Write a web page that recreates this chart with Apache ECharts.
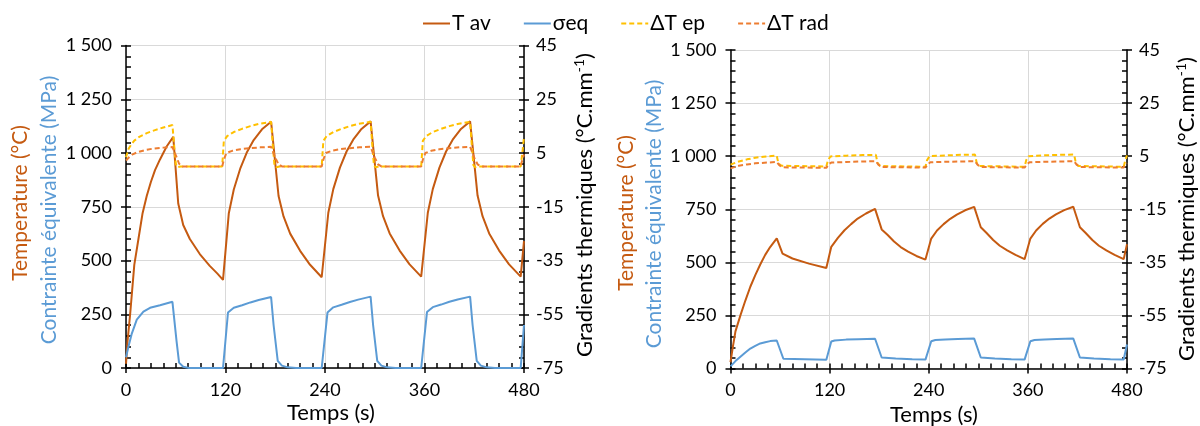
<!DOCTYPE html>
<html><head><meta charset="utf-8">
<script src="https://cdn.jsdelivr.net/npm/echarts@6/dist/echarts.min.js"></script>
<style>html,body{margin:0;padding:0;background:#fff}#c{width:1200px;height:426px}</style>
</head><body><div id="c"></div>
<script>
// ---------- DATA ----------
const seriesNames = ['T av', 'σeq', 'ΔT ep', 'ΔT rad'];
const timeTicksLabel = 'Temps (s)';

// Left chart
const L_tav_t = [0,2,5,10,15,20,25,30,35,41,49,57, 63,69,77,89,101,110,117, 124,130,138,146,154,164,175, 184,190,198,210,222,236, 244,250,258,266,274,284,295, 304,310,318,330,342,356, 364,370,378,386,394,404,415, 424,430,438,450,462,476,480];
const L_tav_v = [20,130,250,480,600,720,800,865,920,970,1030,1075, 765,665,600,530,475,440,410, 720,830,930,1005,1060,1110,1145, 800,705,625,545,480,422, 722,832,932,1007,1062,1112,1147, 802,706,626,546,482,425, 722,832,932,1007,1062,1112,1147, 802,706,626,546,482,425,590];

const L_sig_t = [0,3,7,13,21,29,41,56, 61,64,69,76,117, 123,130,140,150,160,175, 178,183,188,195,205,236, 243,250,260,270,280,295, 298,303,308,315,325,356, 363,370,380,390,400,415, 418,423,428,435,445,476,480];
const L_sig_v = [50,100,160,225,262,280,292,308, 124,25,6,0,0, 258,280,292,305,316,330, 200,33,11,3,0,0, 258,282,294,307,318,332, 200,33,11,3,0,0, 260,283,295,308,319,332, 200,33,11,3,0,0,200];

const L_ep_t = [0,3,6,10,16,25,35,45,56, 58,60,62,66,116, 118,122,130,140,150,160,175, 177,179,181,185,236, 238,242,250,260,270,280,295, 297,299,301,305,356, 358,362,370,380,390,400,415, 417,419,421,425,476,478,480];
const L_ep_v = [3.4,6.5,8.0,9.6,11.0,12.4,13.5,14.5,15.4, 8,1,-0.3,0,0, 9.5,11.3,12.8,14.0,15.0,15.8,16.6, 8,0.5,-0.3,0,0, 9.5,11.3,12.8,14.0,15.0,15.8,16.6, 8,0.5,-0.3,0,0, 9.5,11.3,12.8,14.0,15.0,15.8,16.6, 8,0.5,-0.3,0,0,5,11];

const L_rad_t = [0,4,8,14,22,32,45,56, 58,61,64,68,116, 118,121,128,138,150,162,175, 177,180,184,188,236, 238,241,248,258,270,282,295, 297,300,304,308,356, 358,361,368,378,390,402,415, 417,420,424,428,476,478,480];
const L_rad_v = [2.2,3.5,4.5,5.3,6.0,6.6,7.0,7.2, 7.0,3.5,1.0,0,0, 2.5,5.0,5.8,6.4,6.8,7.1,7.3, 7.0,3.3,0.8,0,0, 2.5,5.0,5.8,6.4,6.8,7.1,7.3, 7.0,3.3,0.8,0,0, 2.5,5.0,5.8,6.4,6.8,7.1,7.3, 7.0,3.3,0.8,0,0,2.5,4.5];

// Right chart
const R_tav_t = [0,3,6,12,18,24,30,36,42,48,56, 63,75,95,116, 122,130,138,146,154,164,175, 183,190,198,206,215,225,236, 243,250,258,266,274,284,295, 303,310,318,326,335,345,356, 363,370,378,386,394,404,415, 423,430,438,446,455,465,476,480];
const R_tav_v = [30,105,175,250,320,385,440,490,535,572,613, 541,518,494,473, 573,615,651,680,706,730,752, 655,630,598,572,550,530,513, 612,650,680,705,725,745,761, 665,638,605,578,556,535,515, 612,650,681,706,726,746,762, 665,638,605,578,556,535,515,585];

const R_sig_t = [0,6,12,18,24,30,36,42,48,56, 64,90,116, 122,126,140,155,175, 183,200,220,236, 243,248,260,275,295, 303,320,340,356, 363,368,380,395,415, 423,440,460,476,480];
const R_sig_v = [10,35,55,75,94,107,118,124,129,132, 46,44,41, 127,132,136,138,140, 52,47,44,42, 128,134,137,139,141, 52,47,44,42, 128,134,137,139,141, 52,47,44,42,113];

const R_ep_t = [0,10,20,30,40,56, 58,62,116, 118,121,140,160,176, 178,181,236, 238,241,260,280,296, 298,301,356, 358,361,380,400,416, 418,421,476,478,480];
const R_ep_v = [1.8,3.0,3.8,4.4,4.8,5.2, 2.2,1.4,1.1, 3.5,4.9,5.2,5.4,5.5, 2.5,1.3,1.0, 3.5,5.0,5.3,5.5,5.6, 2.5,1.3,1.0, 3.5,5.0,5.3,5.5,5.6, 2.5,1.3,1.0,3.5,5.3];

const R_rad_t = [0,10,20,30,45,56, 59,63,116, 119,122,140,160,176, 179,183,236, 239,242,260,280,296, 299,303,356, 359,362,380,400,416, 419,423,476,478,480];
const R_rad_v = [0.4,1.4,1.9,2.3,2.6,2.8, 1.6,0.8,0.6, 2.0,2.6,2.8,3.0,3.1, 1.8,0.9,0.7, 2.0,2.7,2.9,3.0,3.1, 1.8,0.9,0.7, 2.0,2.7,2.9,3.0,3.1, 1.8,0.9,0.7,1.8,2.3];

// ---------- CHART ----------
const FONT = 'Lato';
const C_TAV = '#C55A11', C_SIG = '#5B9BD5', C_EP = '#FFC000', C_RAD = '#ED7D31';
const chart = echarts.init(document.getElementById('c'), null, {renderer: 'canvas'});
const pairs = (t, v) => t.map((x, i) => [x, v[i]]);
const grids = [
  {left: 126, top: 45.5, width: 398, height: 322.5},
  {left: 730.5, top: 50, width: 396.5, height: 318.5}
];
const axisCol = '#000';
const fmtThousands = v => v >= 1000 ? Math.floor(v / 1000) + ' ' + String(v % 1000).padStart(3, '0') : String(v);

const xAxes = [], yAxes = [];
grids.forEach((g, gi) => {
  xAxes.push({gridIndex: gi, type: 'value', position: 'bottom', min: 0, max: 480, interval: 120,
    axisLine: {onZero: false, lineStyle: {color: axisCol, width: 1.5}},
    axisTick: {inside: false, length: 5, lineStyle: {color: axisCol, width: 1.5}},
    axisLabel: {fontFamily: FONT, fontSize: 18, color: '#000', margin: 13},
    splitLine: {show: true, lineStyle: {color: '#d9d9d9', width: 1}}});
  xAxes.push({gridIndex: gi, type: 'value', position: 'bottom', min: 0, max: 480, interval: 15,
    axisLine: {show: false, onZero: false}, axisTick: {inside: true, length: 5, lineStyle: {color: axisCol, width: 1.5}},
    axisLabel: {show: false}, splitLine: {show: false}});
  yAxes.push({gridIndex: gi, type: 'value', position: 'left', min: 0, max: 1500, interval: 250,
    axisLine: {show: true, onZero: false, lineStyle: {color: axisCol, width: 1.5}},
    axisTick: {show: true, inside: false, length: 5, lineStyle: {color: axisCol, width: 1.5}},
    axisLabel: {fontFamily: FONT, fontSize: 18, color: '#000', margin: 14, formatter: fmtThousands},
    splitLine: {show: true, lineStyle: {color: '#d9d9d9', width: 1}}});
  yAxes.push({gridIndex: gi, type: 'value', position: 'left', min: 0, max: 1500, interval: 50,
    axisLine: {show: false, onZero: false}, axisTick: {show: true, inside: true, length: 5, lineStyle: {color: axisCol, width: 1.5}},
    axisLabel: {show: false}, splitLine: {show: false}});
  yAxes.push({gridIndex: gi, type: 'value', position: 'right', min: -75, max: 45, interval: 20,
    axisLine: {show: true, onZero: false, lineStyle: {color: axisCol, width: 1.5}},
    axisTick: {show: true, inside: false, length: 5, lineStyle: {color: axisCol, width: 1.5}},
    axisLabel: {fontFamily: FONT, fontSize: 18, color: '#000', margin: 12},
    splitLine: {show: false}});
  yAxes.push({gridIndex: gi, type: 'value', position: 'right', min: -75, max: 45, interval: 4,
    axisLine: {show: false, onZero: false}, axisTick: {show: true, inside: true, length: 5, lineStyle: {color: axisCol, width: 1.5}},
    axisLabel: {show: false}, splitLine: {show: false}});
});

function mk(name, gi, yOff, t, v, color, dashed) {
  return {type: 'line', name, xAxisIndex: gi * 2, yAxisIndex: gi * 4 + yOff, data: pairs(t, v),
    symbol: 'none', showSymbol: false, itemStyle: {color},
    lineStyle: {color, width: 2, type: dashed ? [5, 3] : 'solid'}, animation: false};
}
const series = [
  mk(seriesNames[0], 0, 0, L_tav_t, L_tav_v, C_TAV, false),
  mk(seriesNames[1], 0, 0, L_sig_t, L_sig_v, C_SIG, false),
  mk(seriesNames[2], 0, 2, L_ep_t, L_ep_v, C_EP, true),
  mk(seriesNames[3], 0, 2, L_rad_t, L_rad_v, C_RAD, true),
  mk(seriesNames[0], 1, 0, R_tav_t, R_tav_v, C_TAV, false),
  mk(seriesNames[1], 1, 0, R_sig_t, R_sig_v, C_SIG, false),
  mk(seriesNames[2], 1, 2, R_ep_t, R_ep_v, C_EP, true),
  mk(seriesNames[3], 1, 2, R_rad_t, R_rad_v, C_RAD, true)
];

function vText(x, y, text, fill, size) {
  return {type: 'text', x, y, rotation: Math.PI / 2, silent: true,
    style: {text, fill, fontFamily: FONT, fontSize: size, align: 'center', verticalAlign: 'middle'}};
}
function gradText(x, y) {
  return {type: 'text', x, y, rotation: Math.PI / 2, silent: true,
    style: {text: '{a|Gradients thermiques (°C.mm}{s|-1}{a|)}', align: 'center', verticalAlign: 'middle',
      rich: {a: {fontFamily: FONT, fontSize: 22, fill: '#000', lineHeight: 26},
             s: {fontFamily: FONT, fontSize: 14, fill: '#000', lineHeight: 26, verticalAlign: 'top'}}}};
}
function hText(x, y, text) {
  return {type: 'text', x, y, silent: true,
    style: {text, fill: '#000', fontFamily: FONT, fontSize: 22, align: 'center', verticalAlign: 'middle'}};
}

chart.setOption({
  animation: false,
  backgroundColor: '#fff',
  grid: grids,
  xAxis: xAxes,
  yAxis: yAxes,
  legend: {data: seriesNames, left: 417, top: 8, itemWidth: 27, itemHeight: 12, itemGap: 32,
    itemStyle: {opacity: 0},
    textStyle: {fontFamily: FONT, fontSize: 21, color: '#000', padding: [0, 0, 0, -3]}},
  graphic: [
    vText(20, 203, 'Temperature (°C)', C_TAV, 21),
    vText(49, 210, 'Contrainte équivalente (MPa)', C_SIG, 21),
    gradText(585, 205),
    hText(331, 413, timeTicksLabel),
    vText(626, 213, 'Temperature (°C)', C_TAV, 21),
    vText(654, 214, 'Contrainte équivalente (MPa)', C_SIG, 21),
    gradText(1187, 209),
    hText(934, 415, timeTicksLabel)
  ],
  series
});
</script></body></html>
